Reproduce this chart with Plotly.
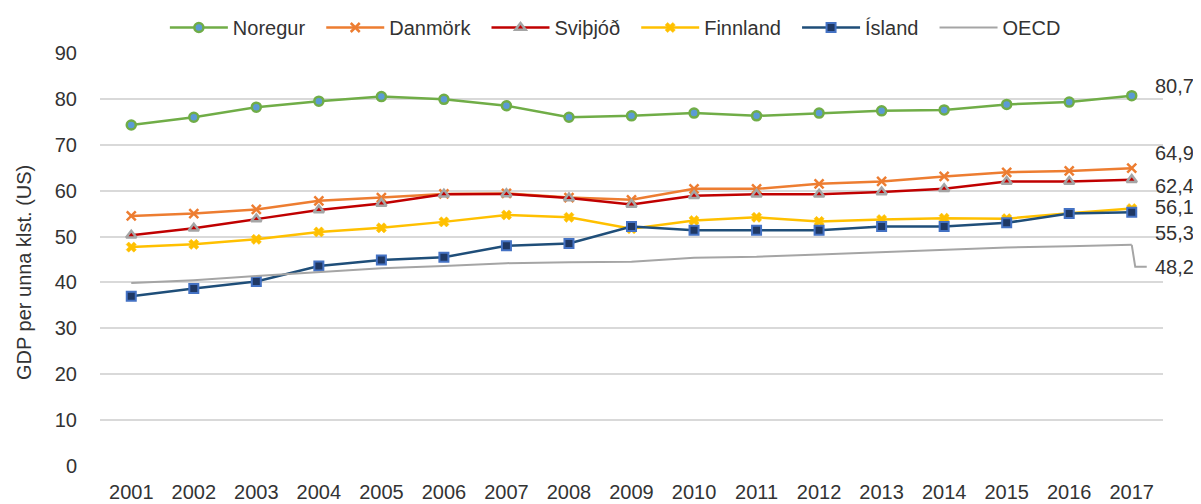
import plotly.graph_objects as go

years = [str(y) for y in range(2001, 2018)]

noregur = [74.3, 76.0, 78.2, 79.5, 80.5, 79.9, 78.5, 76.0, 76.3, 76.9, 76.3, 76.9, 77.4, 77.6, 78.8, 79.3, 80.7]
danmork = [54.5, 55.0, 55.9, 57.8, 58.5, 59.3, 59.4, 58.5, 58.0, 60.4, 60.4, 61.5, 62.0, 63.1, 64.0, 64.3, 64.9]
svithjod = [50.3, 51.8, 53.8, 55.8, 57.2, 59.2, 59.3, 58.4, 57.0, 58.9, 59.2, 59.2, 59.7, 60.4, 62.0, 62.0, 62.4]
finnland = [47.7, 48.3, 49.4, 51.0, 51.9, 53.2, 54.7, 54.2, 51.7, 53.5, 54.2, 53.3, 53.7, 54.0, 53.9, 55.1, 56.1]
island = [37.0, 38.7, 40.2, 43.6, 44.9, 45.5, 48.0, 48.5, 52.2, 51.4, 51.4, 51.4, 52.2, 52.2, 53.0, 55.0, 55.3]
oecd = [39.9, 40.5, 41.4, 42.3, 43.1, 43.6, 44.2, 44.4, 44.5, 45.4, 45.6, 46.1, 46.6, 47.1, 47.6, 47.9, 48.2]

FONT = "Liberation Sans, Arial, sans-serif"
FS = 20
TXT = "#333333"
PAD = "\u00a0\u00a0"

W, H = 1193, 496
ML, MR, MB = 92, 38, 38
PLOT_TOP = 45          # pixel of the 90 gridline inside the figure
paper_h = H - MB
dom_top = (paper_h - PLOT_TOP) / paper_h

series = [
    dict(name="Noregur", y=noregur, color="#70AD47",
         marker=dict(symbol="circle", size=9, color="#5B9BD5", line=dict(color="#70AD47", width=2.5)), dy=-10),
    dict(name="Danmörk", y=danmork, color="#ED7D31",
         marker=dict(symbol="x-thin", size=9, color="#ED7D31", line=dict(color="#ED7D31", width=2.5)), dy=-15),
    dict(name="Sviþjóð", y=svithjod, color="#C00000",
         marker=dict(symbol="triangle-up", size=9, color="#C00000", line=dict(color="#A5A5A5", width=2.5)), dy=6),
    dict(name="Finnland", y=finnland, color="#FFC000",
         marker=dict(symbol="x", size=9, color="#FFC000", line=dict(color="#FFC000", width=0.5)), dy=-2),
    dict(name="Ísland", y=island, color="#1F4E79",
         marker=dict(symbol="square", size=9, color="#1F3864", line=dict(color="#4472C4", width=2)), dy=21),
    dict(name="OECD", y=oecd, color="#A5A5A5", marker=None, dy=22),
]

fig = go.Figure()
for s in series:
    if s["marker"] is None:
        fig.add_trace(go.Scatter(x=years, y=s["y"], name=s["name"] + PAD, mode="lines",
                                 line=dict(color=s["color"], width=2)))
    else:
        fig.add_trace(go.Scatter(x=years, y=s["y"], name=s["name"] + PAD, mode="lines+markers",
                                 line=dict(color=s["color"], width=2.5), marker=s["marker"]))

last = len(years) - 1

# end-of-line data labels
for s in series:
    v = s["y"][-1]
    fig.add_annotation(x=last, y=v, xref="x", yref="y",
                       text=f"{v:.1f}".replace(".", ","), showarrow=False,
                       xanchor="left", yanchor="middle", xshift=21, yshift=-s["dy"],
                       font=dict(family=FONT, size=FS, color=TXT))

# leader line for OECD label
fig.add_shape(type="path", xref="x", yref="y", xsizemode="pixel", ysizemode="pixel",
              xanchor=last, yanchor=oecd[-1], path="M0,0 L3.5,-22 L15,-22",
              line=dict(color="#A5A5A5", width=2))

fig.add_annotation(text="GDP per unna klst. (US)", xref="paper", yref="paper",
                   x=-0.0715, y=(paper_h - 264) / paper_h, textangle=-90, showarrow=False,
                   xanchor="center", yanchor="middle",
                   font=dict(family=FONT, size=FS, color=TXT))

fig.update_layout(
    width=W, height=H,
    margin=dict(l=ML, r=MR, t=0, b=MB, autoexpand=False),
    paper_bgcolor="white", plot_bgcolor="white",
    font=dict(family=FONT, size=FS, color=TXT),
    showlegend=True,
    legend=dict(orientation="h", x=0.49, xanchor="center", xref="paper",
                y=1, yanchor="top", yref="paper",
                font=dict(family=FONT, size=FS, color=TXT), itemwidth=58),
    xaxis=dict(type="category", range=[-0.5, 16.5], showgrid=False, showline=False,
               zeroline=False, ticks="", ticklabelstandoff=12, automargin=False,
               tickfont=dict(family=FONT, size=FS, color=TXT)),
    yaxis=dict(range=[0, 90], dtick=10, domain=[0, dom_top], showgrid=True,
               gridcolor="#D9D9D9", gridwidth=2, automargin=False,
               zeroline=False, showline=False, ticks="", ticklabelstandoff=22,
               tickfont=dict(family=FONT, size=FS, color=TXT)),
)

fig.write_html("out.html")
